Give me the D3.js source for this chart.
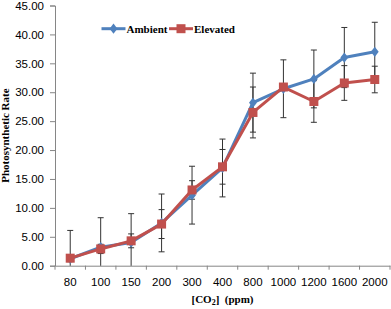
<!DOCTYPE html>
<html>
<head>
<meta charset="utf-8">
<script src="https://cdn.jsdelivr.net/npm/d3@7"></script>
<style>
  body { margin: 0; background: #fff; }
  svg { display: block; }
</style>
</head>
<body>
<div id="chart"></div>
<script>
const co2Levels = ["80", "100", "150", "200", "300", "400", "800", "1000", "1200", "1600", "2000"];
const ambientRate = [1.2, 3.2, 4.0, 7.4, 12.2, 16.9, 28.2, 30.6, 32.3, 36.0, 37.0];
const ambientErr = [4.9, 5.1, 5.0, 5.0, 5.0, 5.0, 5.1, 5.0, 5.0, 5.2, 5.1];
const elevatedRate = [1.3, 2.9, 4.3, 7.2, 13.1, 17.1, 26.5, 30.9, 28.4, 31.6, 32.2];
const elevatedErr = [0.6, 0.8, 1.2, 2.5, 1.6, 3.0, 4.4, 0.6, 3.6, 3.0, 2.3];
const yTicks = [0, 5, 10, 15, 20, 25, 30, 35, 40, 45];

const width = 391, height = 309;
const margin = { top: 5.5, right: 1, bottom: 43.3, left: 55 };
const innerW = width - margin.left - margin.right;
const innerH = height - margin.top - margin.bottom;

const svg = d3.select("#chart").append("svg")
  .attr("width", width)
  .attr("height", height);

const g = svg.append("g")
  .attr("transform", `translate(${margin.left},${margin.top})`);

const x = d3.scaleBand().domain(co2Levels).range([0, innerW]).padding(0);
const y = d3.scaleLinear().domain([0, 45]).range([innerH, 0]);
const cx = d => x(d) + x.bandwidth() / 2;

svg.append("defs").append("clipPath").attr("id", "plot-clip")
  .append("rect").attr("x", 0).attr("y", -5).attr("width", innerW).attr("height", innerH + 5);

// y axis
const yAxis = g.append("g")
  .call(d3.axisLeft(y).tickValues(yTicks).tickFormat(d3.format(".2f")).tickSize(5).tickPadding(6));
yAxis.select(".domain").attr("stroke", "#868686");
yAxis.selectAll(".tick line").attr("stroke", "#868686");
yAxis.selectAll("text")
  .style("font-family", "'Liberation Sans', Arial, sans-serif")
  .style("font-size", "11.5px")
  .attr("fill", "#000");

// x axis: labels at band centres, ticks at band edges
const xAxis = g.append("g")
  .attr("transform", `translate(0,${innerH})`)
  .call(d3.axisBottom(x).tickSize(0).tickPadding(12));
xAxis.select(".domain").attr("stroke", "#868686");
xAxis.selectAll("text")
  .style("font-family", "'Liberation Sans', Arial, sans-serif")
  .style("font-size", "11.5px")
  .attr("fill", "#000");
g.append("g").selectAll("line")
  .data(co2Levels.map(d => x(d)).concat([innerW]))
  .enter().append("line")
  .attr("x1", d => d).attr("x2", d => d)
  .attr("y1", innerH).attr("y2", innerH + 4)
  .attr("stroke", "#868686");

const series = [
  { name: "Ambient", vals: ambientRate, err: ambientErr, color: "#4F81BD", marker: "diamond" },
  { name: "Elevated", vals: elevatedRate, err: elevatedErr, color: "#C0504D", marker: "square" }
];

// error bars
const eb = g.append("g").attr("clip-path", "url(#plot-clip)");
series.forEach(s => {
  co2Levels.forEach((c, i) => {
    const lo = s.vals[i] - s.err[i], hi = s.vals[i] + s.err[i];
    eb.append("line")
      .attr("x1", cx(c)).attr("x2", cx(c))
      .attr("y1", y(lo)).attr("y2", y(hi))
      .attr("stroke", "#333").attr("stroke-width", 1);
    [lo, hi].forEach(v => {
      eb.append("line")
        .attr("x1", cx(c) - 3).attr("x2", cx(c) + 3)
        .attr("y1", y(v)).attr("y2", y(v))
        .attr("stroke", "#333").attr("stroke-width", 1);
    });
  });
});

const line = d3.line().x((d, i) => cx(co2Levels[i])).y(d => y(d));

const drawMarker = (sel, s, px, py) => {
  if (s.marker === "diamond") {
    sel.append("path")
      .attr("d", d3.symbol(d3.symbolDiamond, 40)())
      .attr("transform", `translate(${px},${py}) scale(1.15,0.87)`)
      .attr("fill", s.color);
  } else {
    sel.append("rect")
      .attr("x", px - 4.5).attr("y", py - 4.5)
      .attr("width", 9).attr("height", 9)
      .attr("fill", s.color);
  }
};

series.forEach(s => {
  g.append("path")
    .datum(s.vals)
    .attr("fill", "none")
    .attr("stroke", s.color)
    .attr("stroke-width", 3)
    .attr("stroke-linejoin", "round")
    .attr("d", line);
  const mg = g.append("g");
  s.vals.forEach((v, i) => drawMarker(mg, s, cx(co2Levels[i]), y(v)));
});

// legend
const legendX = [101.5, 169];
series.forEach((s, i) => {
  const lg = svg.append("g").attr("transform", `translate(${legendX[i]},28.7)`);
  lg.append("line")
    .attr("x1", 0).attr("x2", 24)
    .attr("stroke", s.color).attr("stroke-width", 3);
  drawMarker(lg, s, 12, 0);
  lg.append("text")
    .attr("x", 25).attr("y", 4)
    .style("font-family", "'Liberation Serif', 'Times New Roman', serif")
    .style("font-size", "11px")
    .style("font-weight", "bold")
    .text(s.name);
});

// axis titles
svg.append("text")
  .attr("transform", `translate(9,${margin.top + innerH / 2}) rotate(-90)`)
  .attr("text-anchor", "middle")
  .style("font-family", "'Liberation Serif', 'Times New Roman', serif")
  .style("font-size", "11px")
  .style("font-weight", "bold")
  .text("Photosynthetic Rate");

const xt = svg.append("text")
  .attr("x", margin.left + innerW / 2)
  .attr("y", 302.5)
  .attr("text-anchor", "middle")
  .style("font-family", "'Liberation Serif', 'Times New Roman', serif")
  .style("font-size", "11px")
  .style("font-weight", "bold");
xt.append("tspan").text("[CO");
xt.append("tspan").attr("dy", 2.5).style("font-size", "8px").text("2");
xt.append("tspan").attr("dy", -2.5).attr("xml:space", "preserve").text("]  (ppm)");
</script>
</body>
</html>
